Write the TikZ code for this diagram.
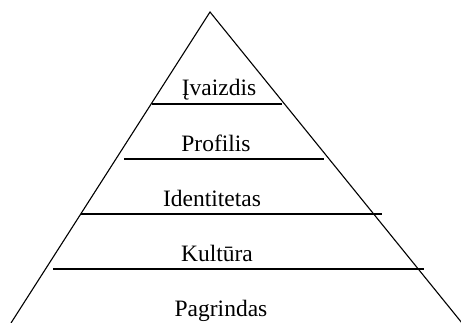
\documentclass[tikz,border=0pt]{standalone}
\usepackage{fontspec}
\setmainfont{Liberation Serif}
\begin{document}
\begin{tikzpicture}[x=1pt,y=1pt,
  edge/.style={draw=black,line width=1.1pt},
  lbl/.style={anchor=base,inner sep=0pt,font=\fontsize{23.5}{28}\selectfont}]
\useasboundingbox (0,0) rectangle (461,323);
% triangle corners
\coordinate (apex) at (210,311);
\coordinate (bl) at (11,0);
\coordinate (br) at (462,0);
\draw[edge] (bl) -- (apex) -- (br);
% level lines
\coordinate (l1a) at (152,219); \coordinate (l1b) at (282,219);
\coordinate (l2a) at (124,164); \coordinate (l2b) at (324,164);
\coordinate (l3a) at (81,109);  \coordinate (l3b) at (382,109);
\coordinate (l4a) at (53,54);   \coordinate (l4b) at (424,54);
\draw[edge] (l1a) -- (l1b);
\draw[edge] (l2a) -- (l2b);
\draw[edge] (l3a) -- (l3b);
\draw[edge] (l4a) -- (l4b);
% labels
\node[lbl] (t1) at (219,227) {Įvaizdis};
\node[lbl] (t2) at (216,171) {Profilis};
\node[lbl] (t3) at (212,116) {Identitetas};
\node[lbl] (t4) at (217,61) {Kultūra};
\node[lbl] (t5) at (221,6) {Pagrindas};
\end{tikzpicture}
\end{document}
